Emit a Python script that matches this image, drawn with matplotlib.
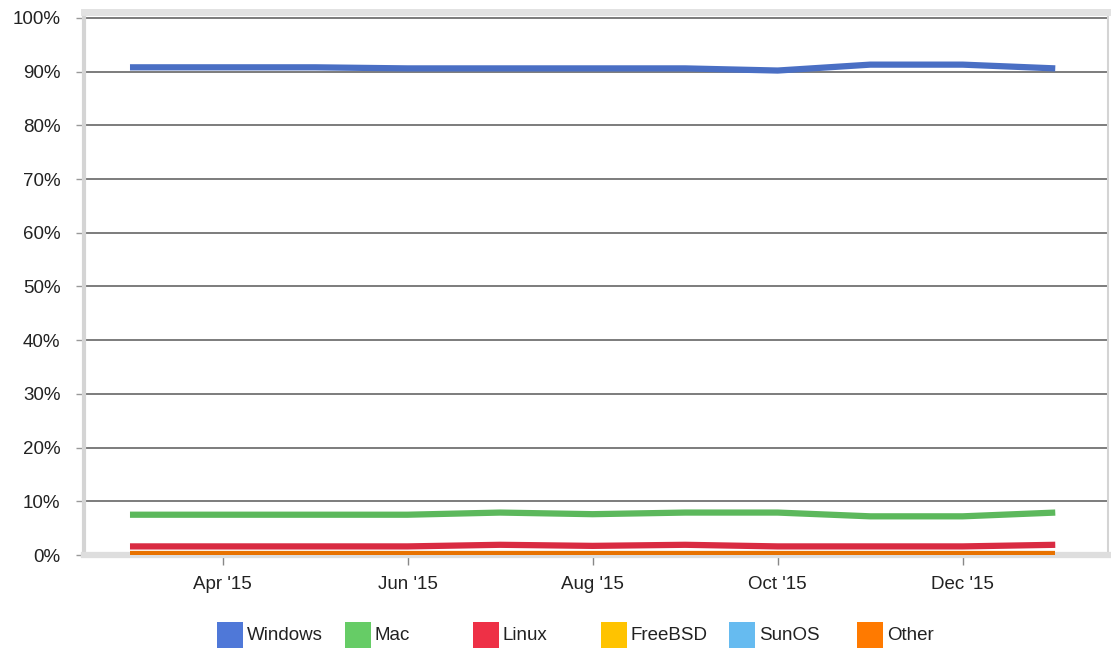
import matplotlib.pyplot as plt
from matplotlib.patches import Rectangle

plt.rcParams['font.family'] = ['Liberation Sans', 'DejaVu Sans']

# monthly points, Mar '15 .. Jan '16
months = ["Mar '15", "Apr '15", "May '15", "Jun '15", "Jul '15", "Aug '15",
          "Sep '15", "Oct '15", "Nov '15", "Dec '15", "Jan '16"]
windows = [90.8, 90.8, 90.8, 90.6, 90.6, 90.6, 90.6, 90.2, 91.3, 91.3, 90.6]
mac = [7.5, 7.5, 7.5, 7.5, 7.9, 7.6, 7.9, 7.9, 7.2, 7.2, 7.9]
linux = [1.6, 1.6, 1.6, 1.6, 1.9, 1.7, 1.9, 1.6, 1.6, 1.6, 1.9]
freebsd = [0.0] * 11
sunos = [0.0] * 11
other = [0.15] * 11

series = [
    ("Windows", windows, "#4a6fc4", "#4f78d8"),
    ("Mac", mac, "#5cb85c", "#66cc66"),
    ("Linux", linux, "#d92b42", "#ee3046"),
    ("FreeBSD", freebsd, "#f2b800", "#ffc300"),
    ("SunOS", sunos, "#5fb4ea", "#66bbf0"),
    ("Other", other, "#e87200", "#ff7a00"),
]

tick_idx = [1, 3, 5, 7, 9]

W, H = 1111, 650
fig = plt.figure(figsize=(W / 100, H / 100), dpi=100)
ax = fig.add_axes([84 / W, 1 - 555 / H, (1108 - 84) / W, (555 - 12) / H])

x = list(range(len(months)))
for name, vals, c, _ in series:
    ax.plot(x, vals, color=c, lw=4.5, solid_capstyle='butt', zorder=3)

ax.set_xlim(-0.497, 10.57)
ax.set_ylim(0, 101.1)
ax.set_yticks(range(0, 101, 10))
ax.set_yticklabels([f"{v}%" for v in range(0, 101, 10)])
ax.set_xticks(tick_idx)
ax.set_xticklabels([months[i] for i in tick_idx])

ax.grid(axis='y', color='#7c7c7c', lw=1.4, zorder=1)
ax.set_axisbelow(True)
ax.tick_params(axis='y', length=6, width=1, color='#999999', pad=11,
               labelsize=13.5, labelcolor='#222222')
ax.tick_params(axis='x', length=7, width=1, color='#888888', pad=8,
               labelsize=13.5, labelcolor='#222222', direction='out')

for side in ['left', 'right', 'top', 'bottom']:
    ax.spines[side].set_color('#d4d4d4')
ax.spines['left'].set_linewidth(3)
ax.spines['bottom'].set_linewidth(4.5)
ax.spines['right'].set_linewidth(1.5)
ax.spines['top'].set_linewidth(5)
ax.spines['top'].set_color('#e2e2e2')
ax.spines['bottom'].set_color('#dedede')

# legend: equal-width entries with square swatches
for i, (name, _, _, lc) in enumerate(series):
    x0 = 217 + i * 128
    fig.patches.append(Rectangle((x0 / W, 1 - 648 / H), 26 / W, 26 / H,
                                 facecolor=lc, edgecolor='none',
                                 transform=fig.transFigure, figure=fig))
    fig.text((x0 + 30) / W, 1 - 635 / H, name, fontsize=13.5,
             color='#222222', va='center', ha='left')

fig.savefig('out.png', dpi=100)
